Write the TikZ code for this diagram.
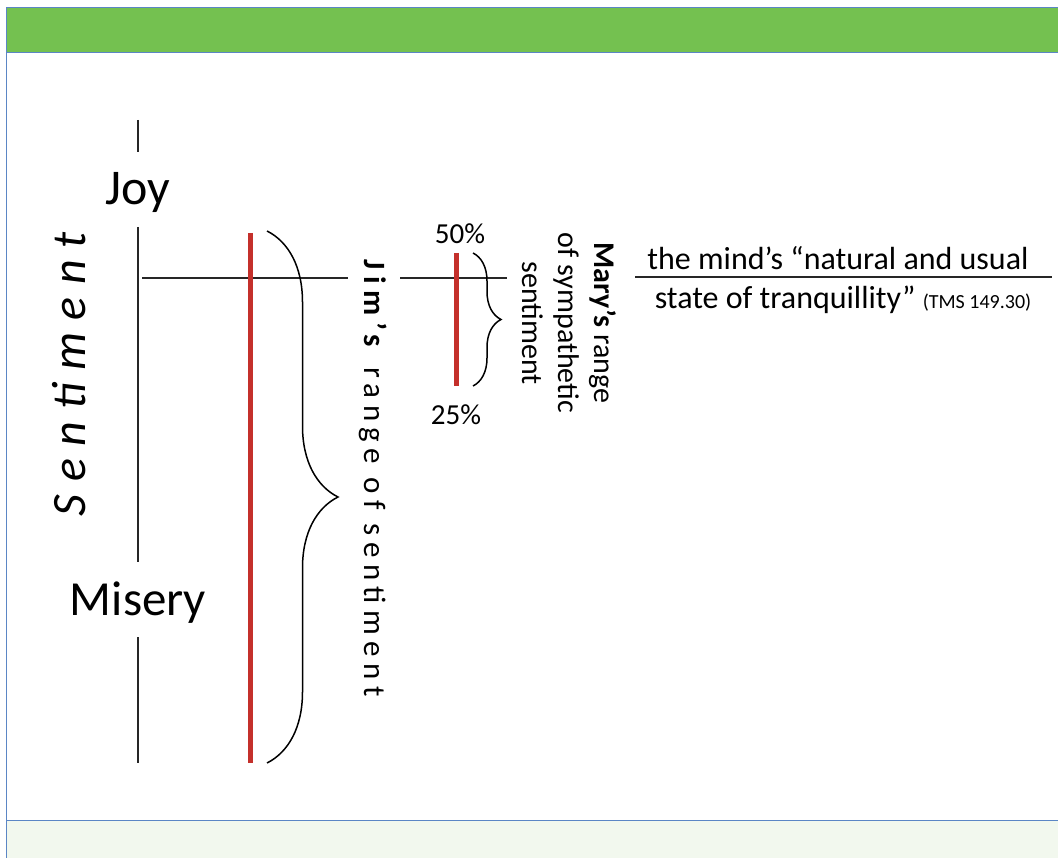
\documentclass[tikz,border=0pt]{standalone}
\usepackage{fontspec}
\setmainfont{Carlito}
\newfontfamily\sentfont[LetterSpace=26]{Carlito}
\newfontfamily\jimfont[LetterSpace=21]{Carlito}
\usetikzlibrary{decorations.pathreplacing}
\definecolor{bandgreen}{RGB}{116,193,80}
\definecolor{frameblue}{RGB}{91,134,197}
\definecolor{rangered}{RGB}{196,48,43}
\definecolor{palegreen}{RGB}{242,248,238}

\begin{document}
\begin{tikzpicture}[x=1pt, y=-1pt, line width=1.5pt,
  axisline/.style={draw=black!85, line width=1.5pt},
  rangebar/.style={draw=rangered, line width=5pt},
  rangebrace/.style={draw=black, line width=1.5pt, decorate, decoration={brace, amplitude=#1}},
  every node/.style={inner sep=0pt}]
\useasboundingbox (0,0) rectangle (1058,858);
\fill[bandgreen] (6,8) rectangle (1058,53);
\fill[palegreen] (6,820) rectangle (1058,858);
\draw[frameblue, line width=1pt] (1058,8) -- (6,8) -- (6,858) (6,53) -- (1058,53) (6,820) -- (1058,820);

\node[rotate=90, font=\fontsize{48}{54}\selectfont\sentfont\itshape] (sent) at (69,374) {Sentiment};
\node[font=\fontsize{50}{56}\selectfont] (joy) at (138,192) {Joy};
\node[font=\fontsize{49}{56}\selectfont] (misery) at (138,603) {Misery};
\coordinate (axtop) at (138,120);  \coordinate (joytop) at (138,152);
\coordinate (joybot) at (138,227); \coordinate (misertop) at (138,562);
\coordinate (miserbot) at (138,637); \coordinate (axbot) at (138,763);
\draw[axisline] (axtop) -- (joytop) (joybot) -- (misertop) (miserbot) -- (axbot);

% baseline of tranquillity
\coordinate (calm0) at (142,278); \coordinate (calm1) at (348,278);
\coordinate (calm2) at (400,278); \coordinate (calm3) at (507,278);
\draw[axisline] (calm0) -- (calm1) (calm2) -- (calm3);

% Jim
\coordinate (jimtop) at (250,233); \coordinate (jimbot) at (250,763);
\draw[rangebar] (jimtop) -- (jimbot);
\draw[rangebrace=71pt] (267,231) -- (267,763);
\node[rotate=-90, font=\fontsize{31}{34}\selectfont\jimfont] (jimlabel) at (373,478) {\textbf{Jim’s} range of sentiment};

% Mary
\node[font=\fontsize{29}{34}\selectfont] (high) at (460,234) {50\%};
\node[font=\fontsize{29}{34}\selectfont] (low) at (456,415) {25\%};
\coordinate (marytop) at (456,253); \coordinate (marybot) at (456,386);
\draw[rangebar] (marytop) -- (marybot);
\draw[rangebrace=28pt] (473,253) -- (473,386);
\node[rotate=-90, align=center, font=\fontsize{30}{36}\selectfont] (marylabel) at (569,323) {\textbf{Mary’s} range\\of sympathetic\\sentiment};

% the mind's state
\node[font=\fontsize{32}{36}\selectfont] (mindtop) at (838,258) {the mind’s “natural and usual};
\node[font=\fontsize{32}{36}\selectfont] (mindbot) at (843,300) {state of tranquillity” {\fontsize{20}{24}\selectfont (TMS 149.30)}};
\coordinate (rule0) at (635,277); \coordinate (rule1) at (1052,277);
\draw[axisline] (rule0) -- (rule1);
\end{tikzpicture}
\end{document}
